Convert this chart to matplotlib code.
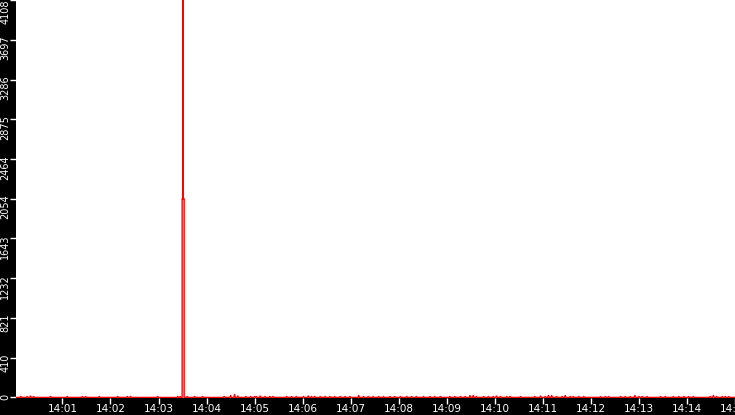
import numpy as np
import matplotlib.pyplot as plt
import matplotlib.dates as mdates
import matplotlib.transforms as mtransforms

# seconds after 14:00:00 and value of the small blips near zero
blip_t = [8, 16, 20, 24, 45, 66, 85, 89, 106, 129, 141, 145, 179, 204, 207,
          216, 225, 235, 262, 270, 275, 279, 289, 295, 300,
          302, 307, 313, 319, 323, 340, 346, 352, 361, 367, 371, 375, 382,
          388, 394, 400, 407, 413, 419, 430, 436, 442, 448, 455, 461, 469,
          475, 482, 490, 496, 502, 511, 519, 525, 532, 544, 550, 557, 563,
          569, 573, 577, 586, 592,
          598, 602, 607, 615, 619, 632, 650, 657, 663, 667, 671, 677, 684,
          688, 694, 698, 705, 711, 732, 738, 742, 757, 763, 769, 775, 780,
          784, 790, 807, 813, 823, 830, 836, 842, 848, 869, 873, 877, 884,
          888, 892]
blip_v = [10, 10, 15, 10, 10, 10, 10, 10, 10, 10, 10, 10, 10, 10, 10,
          10, 10, 10, 10, 20, 30, 15, 10, 10, 10,
          10, 15, 10, 10, 10, 10, 10, 10, 10, 15, 10, 10, 10,
          10, 10, 10, 10, 10, 10, 20, 10, 10, 10, 10, 10, 10,
          10, 10, 10, 10, 10, 10, 10, 10, 10, 10, 10, 10, 10,
          20, 20, 10, 10, 10,
          10, 15, 10, 10, 10, 10, 10, 15, 10, 20, 20, 10, 10,
          20, 10, 10, 10, 10, 10, 10, 10, 10, 10, 10, 20, 10,
          10, 10, 10, 10, 10, 10, 10, 10, 10, 10, 20, 10, 10,
          10, 10]

# the burst around 14:03:30 (runs off the top of the scale)
spike_t = [209.5, 209.5, 210.75, 210.75, 210.75, 212.0, 212.0]
spike_v = [0, 2054, 2054, 4400, 2054, 2054, 0]

yticks = [0, 410, 821, 1232, 1643, 2054, 2464, 2875, 3286, 3697, 4108]

# one sample a second, zero unless a blip was read there
grid = np.arange(0, 901)
base_v = np.zeros(len(grid))
base_v[blip_t] = blip_v
pre = grid < 209
post = grid > 212
secs = np.concatenate([grid[pre], spike_t, grid[post]]).astype(float)
vals = np.concatenate([base_v[pre], spike_v, base_v[post]])

t0 = np.datetime64('2000-01-01T14:00:00')
times = t0 + (secs * 1000).astype('timedelta64[ms]')

fig = plt.figure(figsize=(7.35, 4.15), dpi=100, facecolor='black')
ax = fig.add_axes([16 / 735, 17 / 415, 719 / 735, 398 / 415])
ax.set_facecolor('white')

ax.plot(times, vals, color='#ff0000', lw=1.0)

ax.set_xlim(t0 + np.timedelta64(2, 's'), t0 + np.timedelta64(900, 's'))
ax.set_ylim(-6, 4108)
ax.set_yticks(yticks)
ax.set_yticklabels([str(v) for v in yticks])
ax.xaxis.set_major_locator(mdates.MinuteLocator())
ax.xaxis.set_major_formatter(mdates.DateFormatter('%H:%M'))

for s in ax.spines.values():
    s.set_visible(False)

ax.tick_params(axis='x', colors='white', length=4.5, width=1, labelsize=7.5, pad=0)
ax.tick_params(axis='y', colors='white', length=4, width=1, labelsize=7, pad=0)

# rotated y labels, reading upward, hanging just under their tick
shift = mtransforms.ScaledTranslation(0, 4 / 100, fig.dpi_scale_trans)
labs = ax.get_yticklabels()
for i, lab in enumerate(labs):
    lab.set_rotation(90)
    lab.set_va('top')
    if i < len(labs) - 1:
        lab.set_transform(lab.get_transform() + shift)

fig.savefig('out.png', dpi=100, facecolor='black')
